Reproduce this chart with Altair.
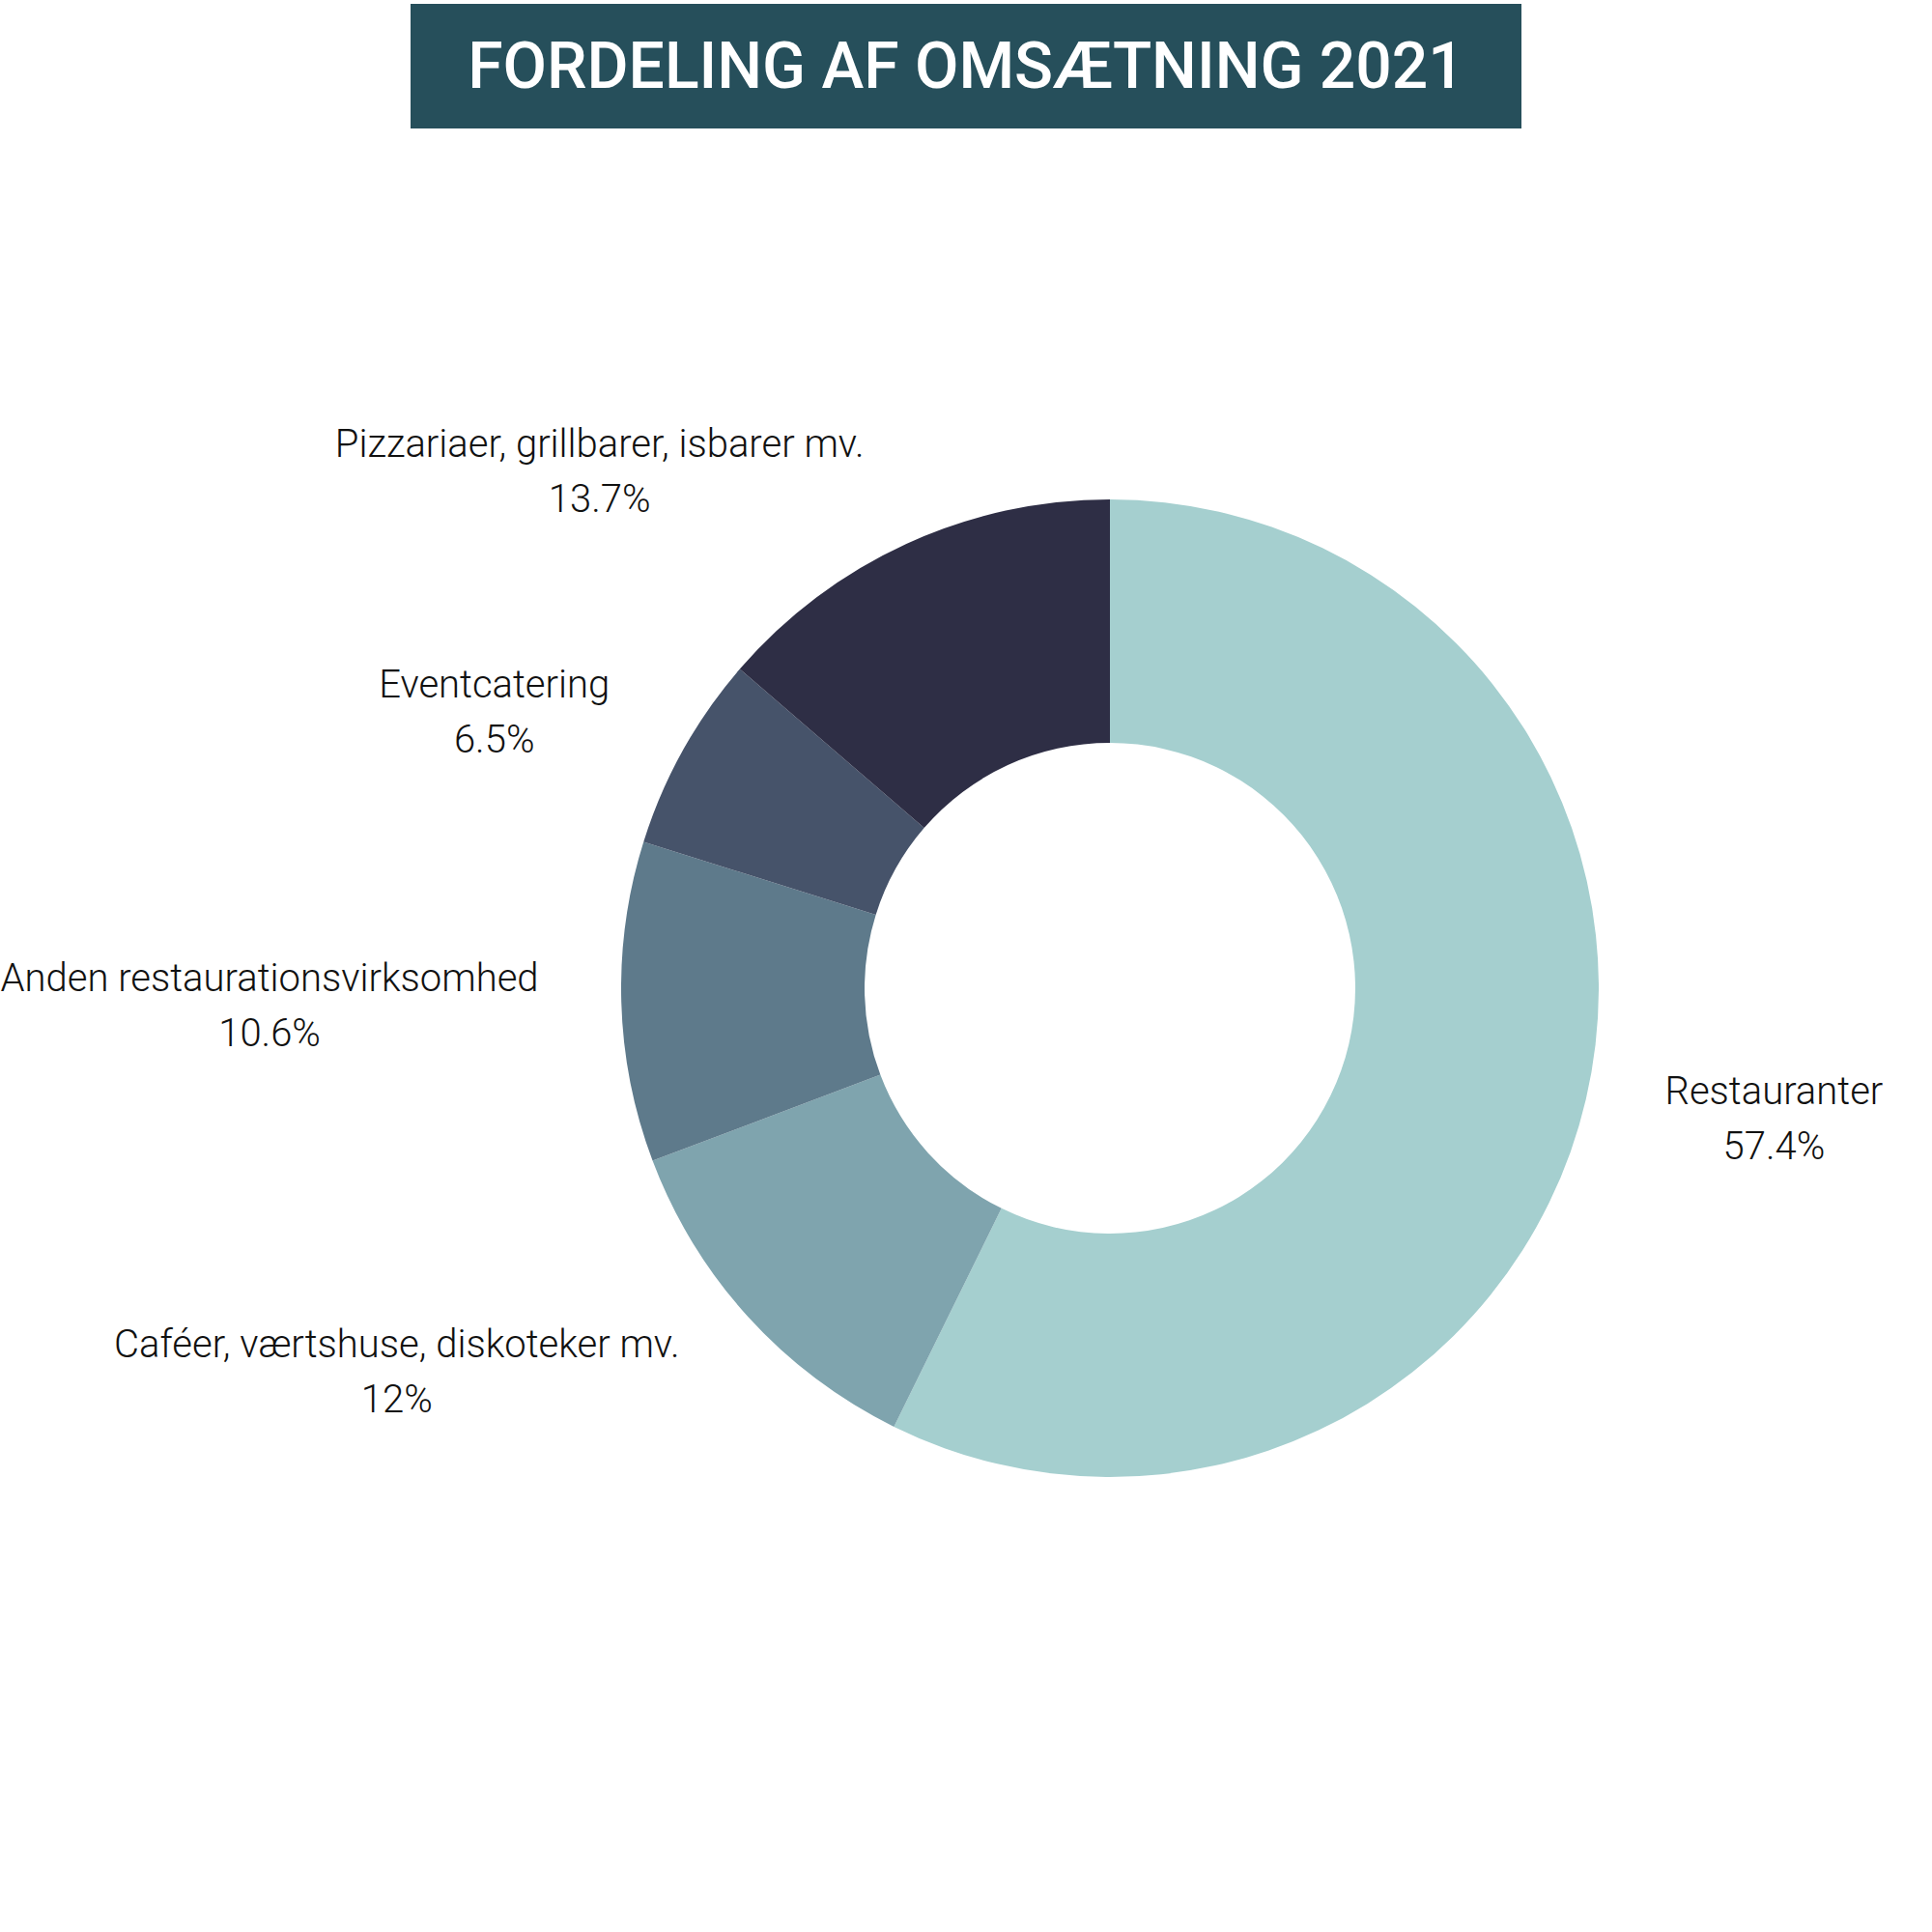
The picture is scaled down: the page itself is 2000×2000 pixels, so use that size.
import altair as alt
import pandas as pd

categories = [
    "Restauranter",
    "Caféer, værtshuse, diskoteker mv.",
    "Anden restaurationsvirksomhed",
    "Eventcatering",
    "Pizzariaer, grillbarer, isbarer mv.",
]
values = [57.4, 12, 10.6, 6.5, 13.7]
colors = ["#A5CFCF", "#7FA4AE", "#5E7A8B", "#46536A", "#2E2E45"]
title_text = "FORDELING AF OMSÆTNING 2021"

df = pd.DataFrame({"category": categories, "value": values, "idx": list(range(len(categories)))})

CX, CY = 1149, 1023
R_IN, R_OUT, R_LAB = 254, 506, 590
FS = 40

base = alt.Chart(df)

arcs = base.mark_arc(innerRadius=R_IN, outerRadius=R_OUT, stroke=None).encode(
    theta=alt.Theta("value:Q", stack=True),
    color=alt.Color("category:N", scale=alt.Scale(domain=categories, range=colors), legend=None),
    order=alt.Order("idx:Q"),
    x=alt.value(CX),
    y=alt.value(CY),
)

width_expr = (
    f"{FS}*(0.54*length(datum.category)"
    " - 0.30*length(replace(datum.category, regexp('[^ilj., ]','g'), ''))"
    " - 0.21*length(replace(datum.category, regexp('[^tfr]','g'), ''))"
    " + 0.30*length(replace(datum.category, regexp('[^mwæ]','g'), '')))"
)

labels = (
    base.transform_window(cum="sum(value)", sort=[alt.SortField("idx")], frame=[None, 0])
    .transform_joinaggregate(total="sum(value)")
    .transform_calculate(mid="(datum.cum - datum.value/2)/datum.total*2*PI")
    .transform_calculate(side="sin(datum.mid) >= 0 ? 1 : -1", w=width_expr)
    .transform_calculate(
        lx=f"{CX} + sin(datum.mid)*{R_LAB} + datum.side*datum.w/2",
        ly=f"{CY} - cos(datum.mid)*{R_LAB}",
        txt="[datum.category, datum.value + '%']",
    )
    .mark_text(
        font="Roboto", fontWeight=300, fontSize=FS, lineHeight=57,
        align="center", baseline="middle", color="#111111", dy=-26,
    )
    .encode(
        x=alt.X("lx:Q", scale=None, axis=None),
        y=alt.Y("ly:Q", scale=None, axis=None),
        text="txt:N",
    )
)

title_box = alt.Chart(pd.DataFrame({"t": [title_text]})).mark_rect(color="#264F5B").encode(
    x=alt.value(425), x2=alt.value(1575), y=alt.value(4), y2=alt.value(133)
)
title_txt = alt.Chart(pd.DataFrame({"t": [title_text]})).mark_text(
    font="Roboto", fontWeight=500, fontSize=66, color="white", align="center", baseline="middle",
).encode(x=alt.value(1000), y=alt.value(71), text="t:N")

chart = (
    alt.layer(arcs, labels, title_box, title_txt)
    .properties(width=2000, height=2000, padding=0, autosize="none", background="white")
    .configure_view(stroke=None)
)

chart.save("out.html", embed_options={"renderer": "svg", "actions": False})
